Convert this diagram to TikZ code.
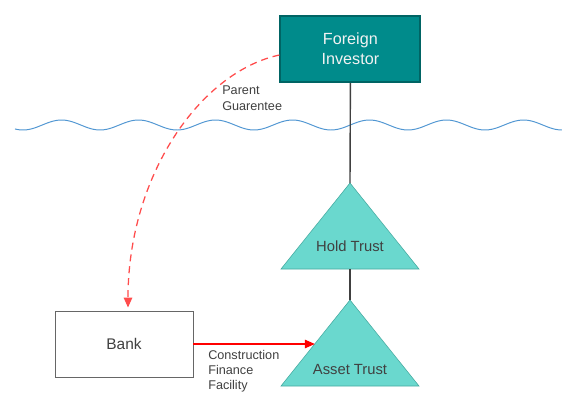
\documentclass[tikz,border=0pt]{standalone}
\usepackage{fontspec}
\setmainfont{Liberation Sans}
\usetikzlibrary{arrows.meta}

\definecolor{investorfill}{RGB}{0,139,139}
\definecolor{investorline}{RGB}{0,100,100}
\definecolor{trustfill}{RGB}{106,216,206}
\definecolor{trustline}{RGB}{70,170,160}
\definecolor{wavecolor}{RGB}{80,150,210}
\definecolor{labelgray}{RGB}{64,64,64}

\tikzset{
    investorbox/.style = {draw = investorline, line width = 1.4pt, fill = investorfill, text = white!95!black,
        minimum width = 3.5cm, minimum height = 1.65cm, align = center, font = \fontsize{11.5}{14}\selectfont},
    bankbox/.style = {draw = gray!80!black, thin, minimum width = 3.45cm, minimum height = 1.65cm,
        text = labelgray, font = \fontsize{11}{13}\selectfont},
    trustshape/.style = {draw = trustline, fill = trustfill, thin},
    trusttext/.style = {text = labelgray, font = \fontsize{10.5}{12}\selectfont},
    smalltext/.style = {text = labelgray, align = left, inner sep = 0pt, font = \fontsize{9}{10.8}\selectfont},
    link/.style = {draw = black!75, line width = 1pt},
}

\begin{document}
\begin{tikzpicture}
    \useasboundingbox (0,0) rectangle (14.05,9.8);

    % the sea
    \draw[wavecolor, line width = 0.7pt] plot[domain = 0.375:14.05, samples = 240]
        (\x, {6.675 - 0.125*cos(360*(\x - 2.5)/1.925)});

    \node[investorbox] (investor) at (8.76,8.575) {Foreign\\Investor};

    \coordinate (hold) at (8.75,5.225);
    \coordinate (asset) at (8.75,2.3);
    \draw[trustshape] (hold) -- ++(-1.725,-2.15) -- ++(3.45,0) -- cycle;
    \draw[trustshape] (asset) -- ++(-1.725,-2.15) -- ++(3.45,0) -- cycle;
    \node[trusttext] (holdlabel) at (8.75,3.65) {Hold Trust};
    \node[trusttext] (assetlabel) at (8.75,0.575) {Asset Trust};

    \node[bankbox] (bank) at (3.1,1.2) {Bank};

    \draw[link] (investor.south) -- (hold);
    \draw[link] (8.75,3.075) -- (asset);

    \coordinate (assetedge) at (7.87,1.2);
    \draw[red, line width = 0.8pt, -{Triangle[length = 7pt, width = 6pt]}] (bank.east) -- (assetedge);
    \node[smalltext, anchor = north west] (facility) at (5.2,1.05) {Construction\\Finance\\Facility};

    \draw[red!70, line width = 0.9pt, dash pattern = on 5pt off 3.5pt, -{Triangle[length = 7pt, width = 6pt]}]
        (investor.west |- 0,8.425) .. controls (5.0,8.0) and (3.2,5.4) .. ([xshift = 0.1cm, yshift = 0.08cm]bank.north);
    \node[smalltext, anchor = north west] (guarantee) at (5.55,7.65) {Parent\\Guarentee};
\end{tikzpicture}
\end{document}
